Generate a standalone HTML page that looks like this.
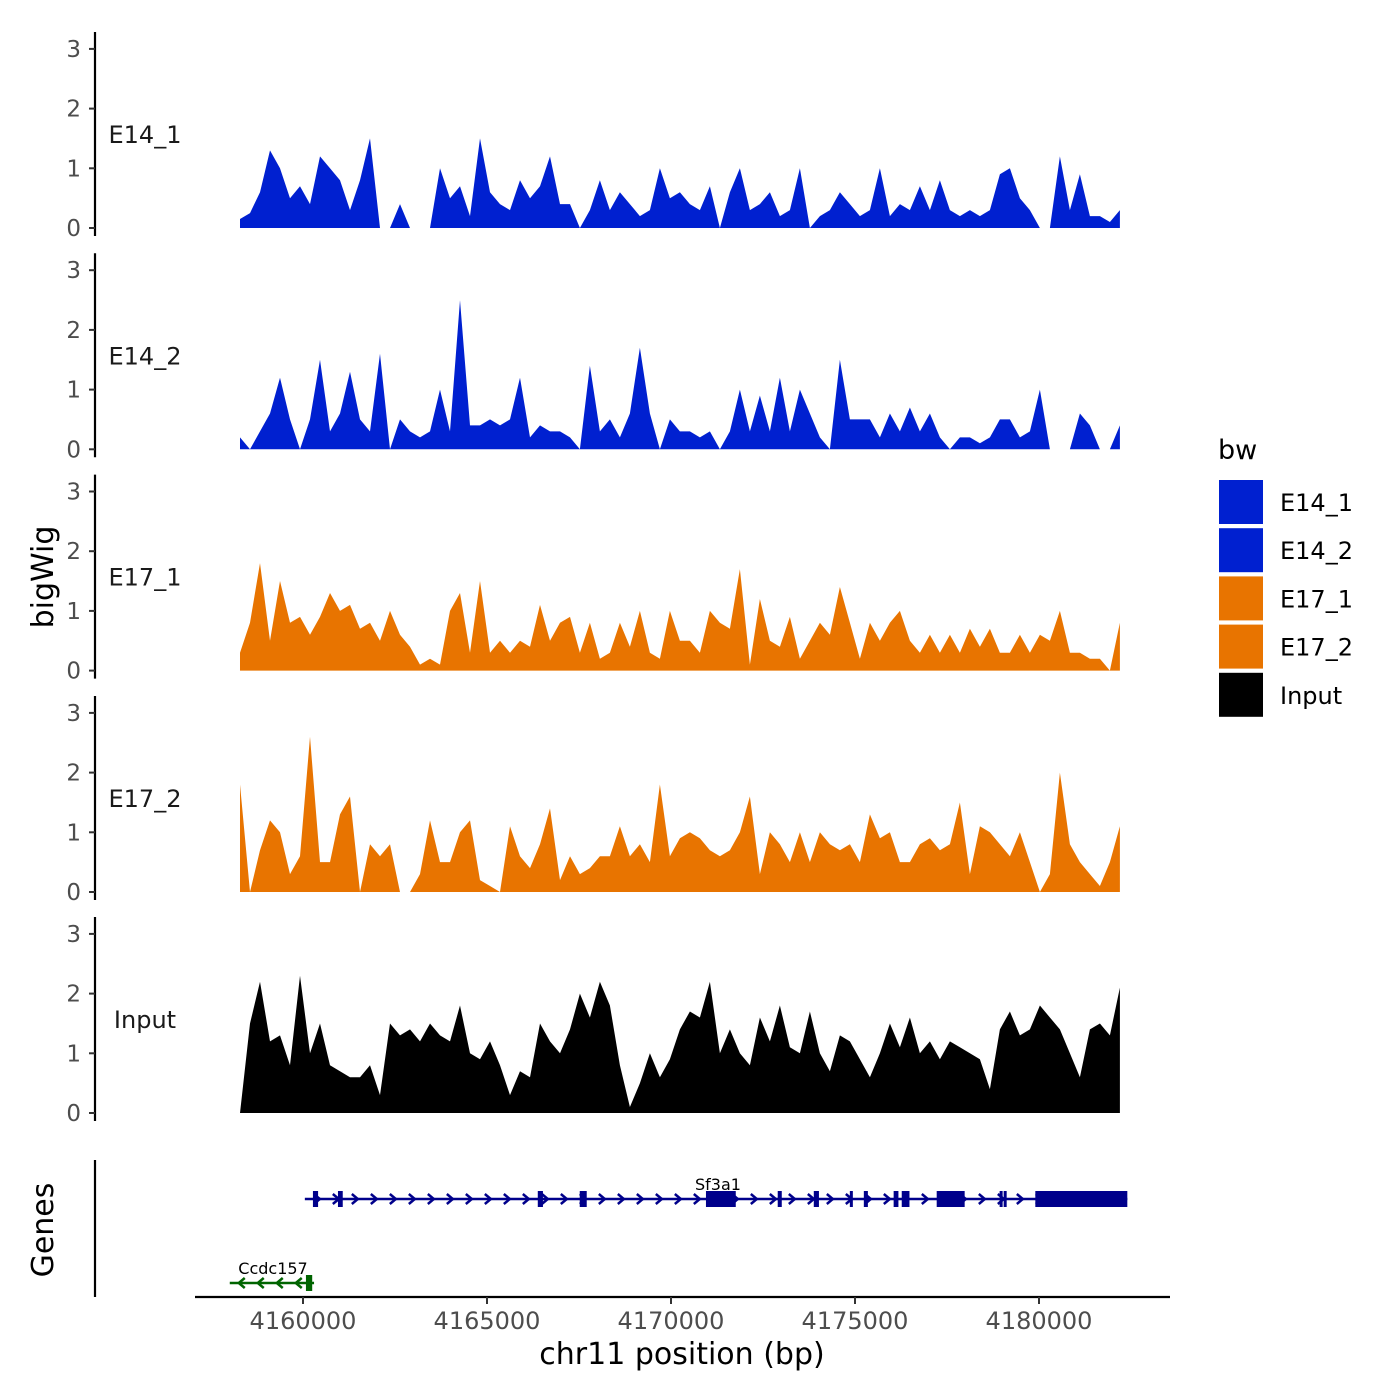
<!DOCTYPE html>
<html><head><meta charset="utf-8"><style>
html,body{margin:0;padding:0;background:#fff;}
svg{display:block;font-family:"DejaVu Sans","Liberation Sans",sans-serif;}
</style></head><body>
<svg id="chart" width="1400" height="1400" viewBox="0 0 1400 1400"></svg>
<script>
const tracks = ["E14_1","E14_2","E17_1","E17_2","Input"];
const trackColors = ["#0020d0","#0020d0","#e87400","#e87400","#000000"];
const binStart = 4158288;
const binWidth = 271.7;
const e14_1 = [0.15,0.25,0.6,1.3,1.0,0.5,0.7,0.4,1.2,1.0,0.8,0.3,0.8,1.5,0,0,0.4,0,0,0,1.0,0.5,0.7,0.2,1.5,0.6,0.4,0.3,0.8,0.5,0.7,1.2,0.4,0.4,0,0.3,0.8,0.3,0.6,0.4,0.2,0.3,1.0,0.5,0.6,0.4,0.3,0.7,0,0.6,1.0,0.3,0.4,0.6,0.2,0.3,1.0,0,0.2,0.3,0.6,0.4,0.2,0.3,1.0,0.2,0.4,0.3,0.7,0.3,0.8,0.3,0.2,0.3,0.2,0.3,0.9,1.0,0.5,0.3,0,0,1.2,0.3,0.9,0.2,0.2,0.1,0.3];
const e14_2 = [0.2,0,0.3,0.6,1.2,0.5,0,0.5,1.5,0.3,0.6,1.3,0.5,0.3,1.6,0,0.5,0.3,0.2,0.3,1.0,0.3,2.5,0.4,0.4,0.5,0.4,0.5,1.2,0.2,0.4,0.3,0.3,0.2,0,1.4,0.3,0.5,0.2,0.6,1.7,0.6,0,0.5,0.3,0.3,0.2,0.3,0,0.3,1.0,0.3,0.9,0.3,1.2,0.3,1.0,0.6,0.2,0,1.5,0.5,0.5,0.5,0.2,0.6,0.3,0.7,0.3,0.6,0.2,0,0.2,0.2,0.1,0.2,0.5,0.5,0.2,0.3,1.0,0,0,0,0.6,0.4,0,0,0.4];
const e17_1 = [0.3,0.8,1.8,0.5,1.5,0.8,0.9,0.6,0.9,1.3,1.0,1.1,0.7,0.8,0.5,1.0,0.6,0.4,0.1,0.2,0.1,1.0,1.3,0.3,1.5,0.3,0.5,0.3,0.5,0.4,1.1,0.5,0.8,0.9,0.3,0.8,0.2,0.3,0.8,0.4,1.0,0.3,0.2,1.0,0.5,0.5,0.3,1.0,0.8,0.7,1.7,0.1,1.2,0.5,0.4,0.9,0.2,0.5,0.8,0.6,1.4,0.8,0.2,0.8,0.5,0.8,1.0,0.5,0.3,0.6,0.3,0.6,0.3,0.7,0.4,0.7,0.3,0.3,0.6,0.3,0.6,0.5,1.0,0.3,0.3,0.2,0.2,0,0.8];
const e17_2 = [1.8,0,0.7,1.2,1.0,0.3,0.6,2.6,0.5,0.5,1.3,1.6,0,0.8,0.6,0.8,0,0,0.3,1.2,0.5,0.5,1.0,1.2,0.2,0.1,0,1.1,0.6,0.4,0.8,1.4,0.2,0.6,0.3,0.4,0.6,0.6,1.1,0.6,0.8,0.5,1.8,0.6,0.9,1.0,0.9,0.7,0.6,0.7,1.0,1.6,0.3,1.0,0.8,0.5,1.0,0.5,1.0,0.8,0.7,0.8,0.5,1.3,0.9,1.0,0.5,0.5,0.8,0.9,0.7,0.8,1.5,0.3,1.1,1.0,0.8,0.6,1.0,0.5,0,0.3,2.0,0.8,0.5,0.3,0.1,0.5,1.1];
const input = [0,1.5,2.2,1.2,1.3,0.8,2.3,1.0,1.5,0.8,0.7,0.6,0.6,0.8,0.3,1.5,1.3,1.4,1.2,1.5,1.3,1.2,1.8,1.0,0.9,1.2,0.8,0.3,0.7,0.6,1.5,1.2,1.0,1.4,2.0,1.6,2.2,1.8,0.8,0.1,0.5,1.0,0.6,0.9,1.4,1.7,1.6,2.2,1.0,1.4,1.0,0.8,1.6,1.2,1.8,1.1,1.0,1.7,1.0,0.7,1.3,1.2,0.9,0.6,1.0,1.5,1.1,1.6,1.0,1.2,0.9,1.2,1.1,1.0,0.9,0.4,1.4,1.7,1.3,1.4,1.8,1.6,1.4,1.0,0.6,1.4,1.5,1.3,2.1];
const yTicks = [0,1,2,3];
const xTicks = [4160000,4165000,4170000,4175000,4180000];
const sf3a1Exons = [[4160270,4160410],[4160950,4161080],[4166380,4166520],[4167520,4167710],[4170950,4171760],[4172900,4173010],[4173880,4174020],[4174860,4174940],[4175240,4175350],[4176050,4176180],[4176270,4176480],[4177220,4177980],[4178930,4178990],[4179040,4179100],[4179900,4182400]];
const sf3a1Span = [4160050,4182400];
const ccdcSpan = [4158010,4160300];
const ccdcExons = [[4160080,4160250]];

const S = document.getElementById('chart');
const NS = 'http://www.w3.org/2000/svg';
function mk(tag, attrs, parent){const e=document.createElementNS(NS,tag);for(const k in attrs)e.setAttribute(k,attrs[k]);(parent||S).appendChild(e);return e;}
const xS = bp => 303 + (bp-4160000)*0.0368;
const panelZero = [228,449.3,670.6,892,1113];
const yS = (p,v) => panelZero[p] - v*59.7;
const series = [e14_1,e14_2,e17_1,e17_2,input];

series.forEach((vals,p)=>{
  const g = mk('g',{});
  
  
  let d = 'M'+xS(binStart)+','+panelZero[p];
  vals.forEach((v,i)=>{ d += ' L'+xS(binStart+i*binWidth).toFixed(1)+','+yS(p,v).toFixed(1); });
  d += ' L'+xS(binStart+(vals.length-1)*binWidth).toFixed(1)+','+panelZero[p]+' Z';
  const a = mk('path',{d:d,fill:trackColors[p]},g);
  
  
  const ax = mk('line',{x1:95,x2:95,y1:panelZero[p]-196,y2:panelZero[p]+8,stroke:'#000','stroke-width':2.2},g);
  
  
  yTicks.forEach(t=>{
    mk('line',{x1:89,x2:95,y1:yS(p,t),y2:yS(p,t),stroke:'#333','stroke-width':2},g);
    const tx = mk('text',{x:81,y:yS(p,t)+8,'text-anchor':'end','font-size':23,fill:'#4d4d4d'},g);
    tx.textContent = t;
    
    
  });
  const lb = mk('text',{x:145,y:panelZero[p]-85,'text-anchor':'middle','font-size':24,fill:'#1a1a1a'},g);
  lb.textContent = tracks[p];
  
  
});

const gl = mk('line',{x1:95,x2:95,y1:1160,y2:1297,stroke:'#000','stroke-width':2.2});


function gene(span,exons,y,col,dir,name,lx){
  const g = mk('g',{});
  
  
  mk('line',{x1:xS(span[0]),x2:xS(span[1]),y1:y,y2:y,stroke:col,'stroke-width':2.5},g);
  for(let x=xS(span[0])+12;x<xS(span[1])-4;x+=19){
    const pts = dir>0 ? `${x-3},${y-5} ${x+3},${y} ${x-3},${y+5}` : `${x+3},${y-5} ${x-3},${y} ${x+3},${y+5}`;
    mk('polyline',{points:pts,fill:'none',stroke:col,'stroke-width':2.5},g);
  }
  exons.forEach(e=>{ mk('rect',{x:xS(e[0]),y:y-8,width:Math.max(3,xS(e[1])-xS(e[0])),height:16,fill:col},g); });
  const t = mk('text',{x:lx,y:y-9,'text-anchor':'middle','font-size':16,fill:'#000'},g);
  t.textContent = name;
  
  
}
gene(sf3a1Span,sf3a1Exons,1199,'#00008b',1,'Sf3a1',718);
gene(ccdcSpan,ccdcExons,1283,'#006400',-1,'Ccdc157',273);

const xa = mk('line',{x1:195,x2:1170,y1:1297,y2:1297,stroke:'#000','stroke-width':2.2});


xTicks.forEach(t=>{
  mk('line',{x1:xS(t),x2:xS(t),y1:1297,y2:1304,stroke:'#333','stroke-width':2});
  const tx = mk('text',{x:xS(t),y:1329,'text-anchor':'middle','font-size':24,fill:'#4d4d4d'});
  tx.textContent = t;
  
  
});
const xt = mk('text',{x:682,y:1364,'text-anchor':'middle','font-size':30,fill:'#000'});
xt.textContent = 'chr11 position (bp)';


const yt = mk('text',{x:53,y:577,'text-anchor':'middle','font-size':30,fill:'#000',transform:'rotate(-90 53 577)'});
yt.textContent = 'bigWig';


const gt = mk('text',{x:53,y:1230,'text-anchor':'middle','font-size':30,fill:'#000',transform:'rotate(-90 53 1230)'});
gt.textContent = 'Genes';



const lg = mk('g',{});


const lt = mk('text',{x:1218,y:459,'font-size':27,fill:'#000'},lg);
lt.textContent = 'bw';


tracks.forEach((t,i)=>{
  const r = mk('rect',{x:1219,y:480+i*48.2,width:44,height:44,fill:trackColors[i]},lg);
  
  
  const tx = mk('text',{x:1280,y:511+i*48.2,'font-size':24,fill:'#000'},lg);
  tx.textContent = t;
  
  
});
</script>
</body></html>
